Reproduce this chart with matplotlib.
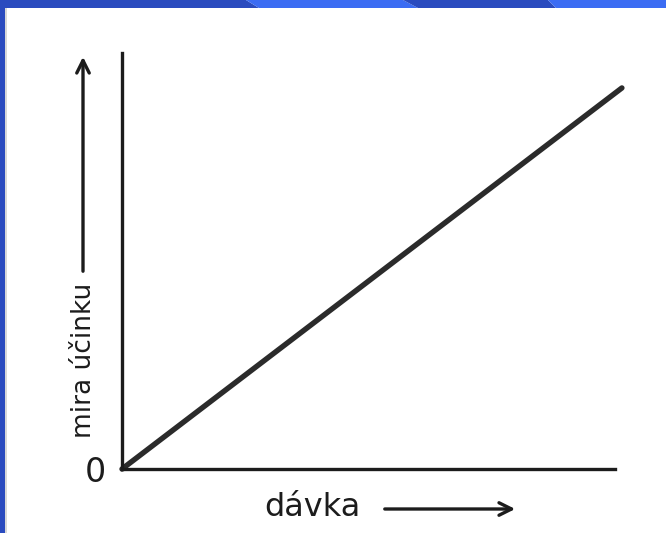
import matplotlib.pyplot as plt
from matplotlib.patches import Polygon, Rectangle

# Data: straight dose-response line
davka = [0.0, 10.14]
mira_ucinku = [0.0, 9.16]
zero_label = "0"
x_label = "dávka"
y_label = "mira účinku"

W, H = 666, 533
fig = plt.figure(figsize=(W / 100, H / 100), dpi=100)
fig.patch.set_facecolor("white")


def fx(px):
    return px / W


def fy(py):
    # top-based pixel row -> figure fraction
    return 1 - py / H


# blue slide frame: dark/light diagonal stripes on top, dark strip on the left
dark = "#2a4bbf"
light = "#3b6cf3"
stripes = [(0, 0, 246, 259, dark), (246, 259, 403, 418, light),
           (403, 418, 548, 556, dark), (548, 556, 666, 666, light)]
for x0t, x0b, x1t, x1b, c in stripes:
    fig.add_artist(Polygon([(fx(x0t), fy(0)), (fx(x1t), fy(0)),
                            (fx(x1b), fy(8)), (fx(x0b), fy(8))],
                           closed=True, facecolor=c, edgecolor="none",
                           transform=fig.transFigure))
fig.add_artist(Rectangle((0, 0), fx(5), 1, facecolor=dark, edgecolor="none",
                         transform=fig.transFigure))
fig.add_artist(Rectangle((fx(5), 0), fx(2), fy(8), facecolor="#d8d8d8",
                         edgecolor="none", transform=fig.transFigure))

# axes: left spine 53..469, bottom spine 122..615 (pixels)
ax = fig.add_axes([fx(122), fy(469), fx(615 - 122), (469 - 53) / H])
ax.set_facecolor("none")
ax.set_xlim(0, 10)
ax.set_ylim(0, 10)
for side in ["top", "right"]:
    ax.spines[side].set_visible(False)
for side in ["left", "bottom"]:
    ax.spines[side].set_linewidth(2.4)
    ax.spines[side].set_color("#1c1c1c")
ax.set_xticks([])
ax.set_yticks([])

ax.plot(davka, mira_ucinku, color="#2b2b2b", linewidth=3.9,
        solid_capstyle="round", clip_on=False)

ax.annotate(zero_label, xy=(0, 0), xytext=(-27, -3), textcoords="offset pixels",
            ha="center", va="center", fontsize=24, color="#1c1c1c")

# x label with arrow
fig.text(fx(264), fy(508), x_label, ha="left", va="center", fontsize=23,
         color="#1c1c1c")
ax.annotate("", xy=(fx(518), fy(509)), xytext=(fx(382), fy(509)),
            xycoords="figure fraction", textcoords="figure fraction",
            arrowprops=dict(arrowstyle="->,head_length=0.9,head_width=0.45",
                            color="#1c1c1c", lw=2.4))

# y label with arrow
fig.text(fx(84), fy(360), y_label, rotation=90, ha="center", va="center",
         fontsize=19, color="#1c1c1c")
ax.annotate("", xy=(fx(83), fy(54)), xytext=(fx(83), fy(274)),
            xycoords="figure fraction", textcoords="figure fraction",
            arrowprops=dict(arrowstyle="->,head_length=0.9,head_width=0.45",
                            color="#1c1c1c", lw=2.4))

plt.savefig("out.png", dpi=100)
